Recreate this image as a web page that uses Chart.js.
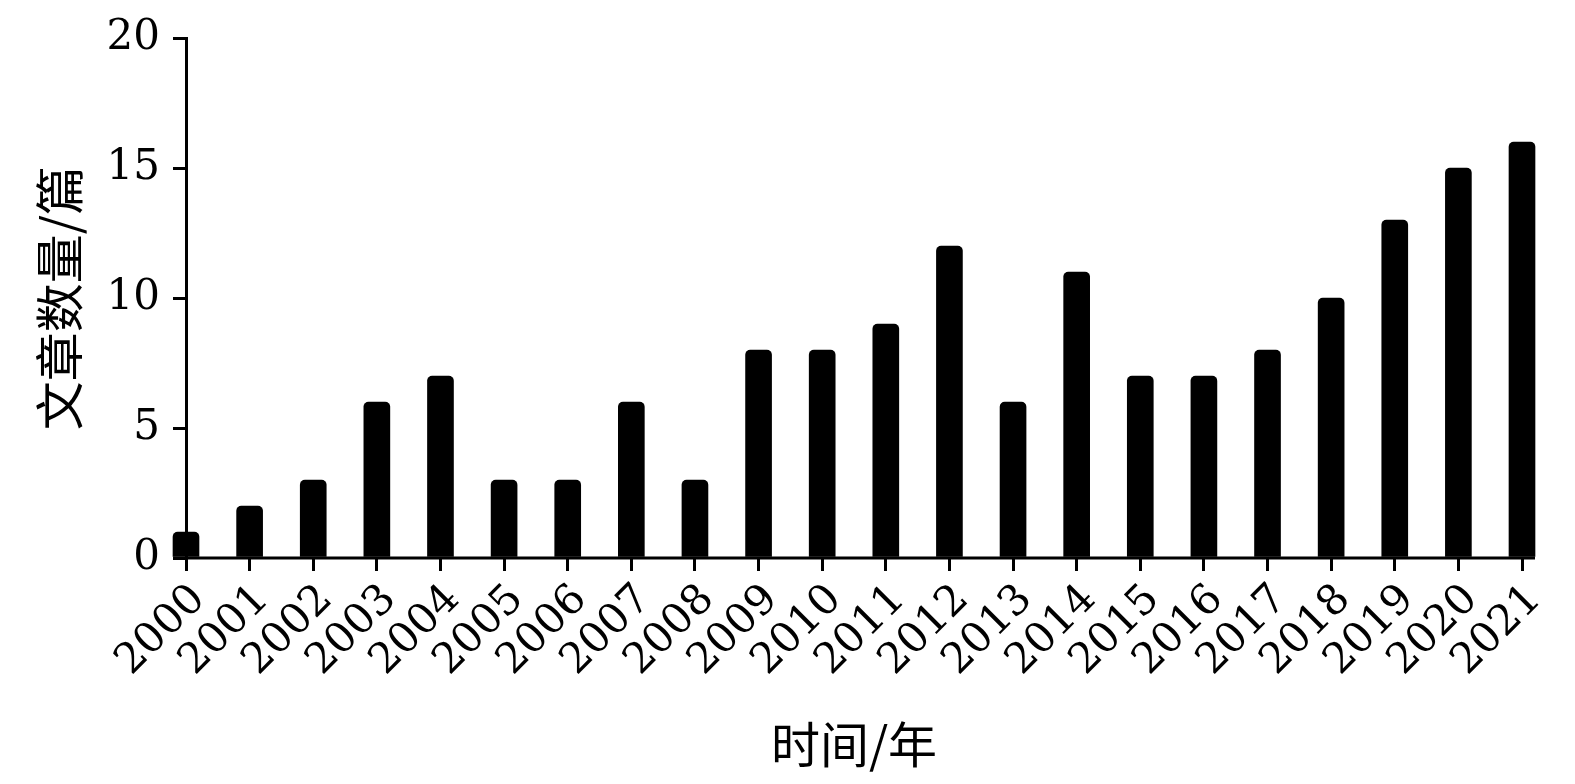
<!DOCTYPE html>
<html>
<head>
<meta charset="utf-8">
<script src="https://cdn.jsdelivr.net/npm/chart.js@4/dist/chart.umd.min.js"></script>
<style>
  html, body { margin: 0; padding: 0; background: #fff; }
  canvas { display: block; }
</style>
</head>
<body>
<canvas id="chart" width="1575" height="784"></canvas>
<script>
const years = ['2000', '2001', '2002', '2003', '2004', '2005', '2006', '2007', '2008', '2009', '2010',
  '2011', '2012', '2013', '2014', '2015', '2016', '2017', '2018', '2019', '2020', '2021'];
const articleCounts = [1, 2, 3, 6, 7, 3, 3, 6, 3, 8, 8, 9, 12, 6, 11, 7, 7, 8, 10, 13, 15, 16];
const yTicks = [0, 5, 10, 15, 20];

const xTitle = '时间/年';
const yTitle = '文章数量/篇';

const tickFont = { family: '"DejaVu Serif", serif', size: 42 };
const titleFont = { family: '"Noto Sans CJK SC", sans-serif', size: 49 };

// baseline runs from the outer edge of the first bar to the outer edge of the last one
const baseline = {
  id: 'baseline',
  afterDatasetsDraw(chart) {
    const bars = chart.getDatasetMeta(0).data;
    if (!bars.length) return;
    const first = bars[0], last = bars[bars.length - 1];
    const y = chart.scales.y.getPixelForValue(0);
    const ctx = chart.ctx;
    ctx.save();
    ctx.strokeStyle = '#000';
    ctx.lineWidth = 3;
    ctx.beginPath();
    ctx.moveTo(first.x - first.width / 2, y);
    ctx.lineTo(last.x + last.width / 2, y);
    ctx.stroke();
    ctx.restore();
  }
};

new Chart(document.getElementById('chart'), {
  type: 'bar',
  data: {
    labels: years,
    datasets: [{
      data: articleCounts,
      backgroundColor: '#000',
      barThickness: 26,
      borderRadius: { topLeft: 5, topRight: 5, bottomLeft: 0, bottomRight: 0 },
      borderSkipped: false,
      clip: false
    }]
  },
  options: {
    responsive: false,
    animation: false,
    layout: { padding: { top: 36, right: 53, left: 0, bottom: 0 } },
    plugins: { legend: { display: false }, tooltip: { enabled: false } },
    scales: {
      x: {
        offset: false,
        afterFit(scale) { scale.height = 226; },
        grid: { drawOnChartArea: false, drawTicks: true, tickLength: 13, color: '#000', lineWidth: 3, offset: false },
        border: { display: false },
        ticks: { color: '#000', font: tickFont, minRotation: 45, maxRotation: 45, autoSkip: false, padding: 4, labelOffset: 13 },
        title: { display: true, text: xTitle, color: '#000', font: titleFont, padding: { top: 0, bottom: 10 } }
      },
      y: {
        min: 0,
        max: 20,
        afterFit(scale) { scale.width = 186; },
        afterBuildTicks(scale) { scale.ticks = yTicks.map(v => ({ value: v })); },
        grid: { drawOnChartArea: false, drawTicks: true, tickLength: 13, color: '#000', lineWidth: 3 },
        border: { display: true, color: '#000', width: 3 },
        ticks: { color: '#000', font: tickFont, padding: 13 },
        title: { display: true, text: yTitle, color: '#000', font: titleFont, padding: { top: 30, bottom: 0 } }
      }
    }
  },
  plugins: [baseline]
});
</script>
</body>
</html>
